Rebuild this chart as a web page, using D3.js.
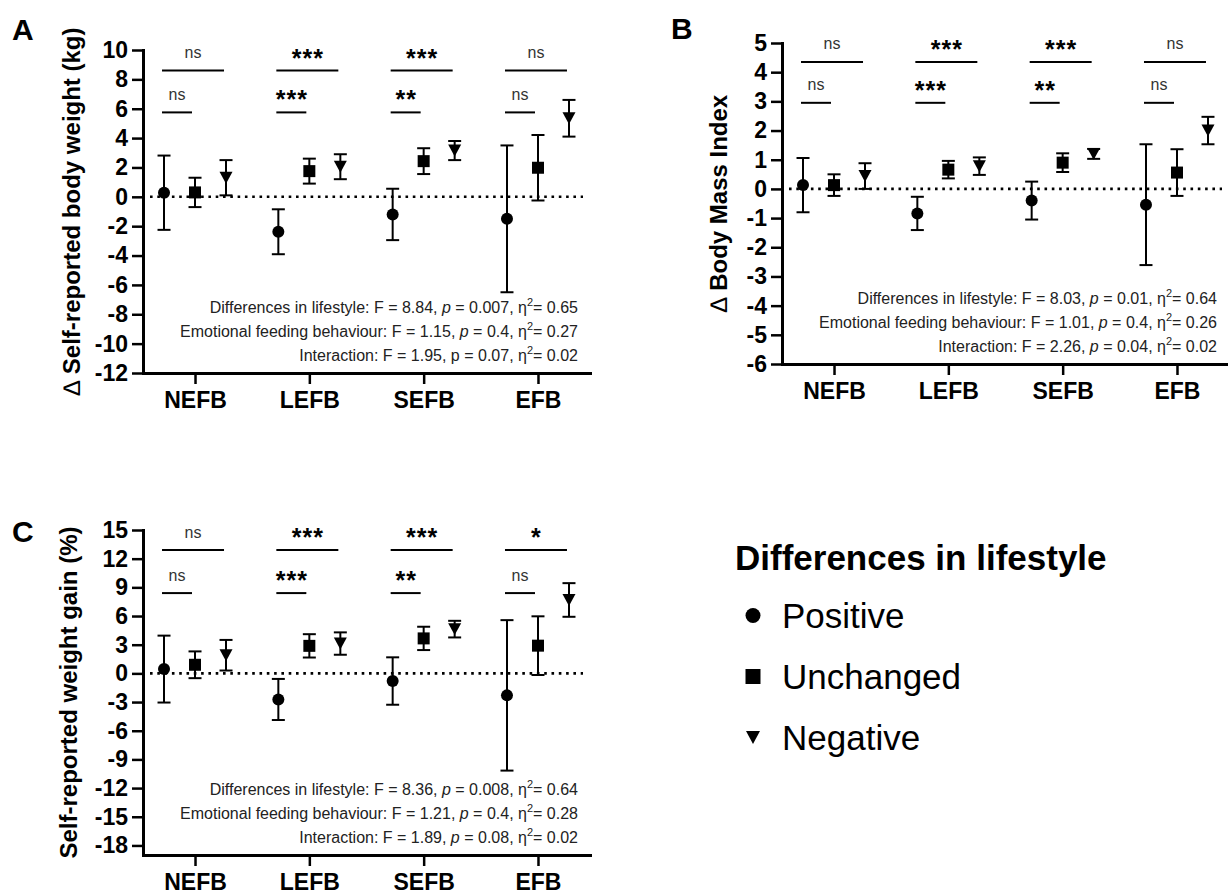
<!DOCTYPE html>
<html lang="en">
<head>
<meta charset="UTF-8">
<title>Lifestyle and emotional feeding behaviour</title>
<script src="https://d3js.org/d3.v7.min.js"></script>
<style>
  body { margin: 0; background: white; }
  svg { font-family: "Liberation Sans", Arial, sans-serif; background: white; }
</style>
</head>
<body>
<svg width="1228" height="894"></svg>
<script>
// Categories
var groups = ["NEFB", "LEFB", "SEFB", "EFB"];
var lifestyles = ["Positive", "Unchanged", "Negative"];

// A: change in self-reported body weight (kg); rows = Positive, Unchanged, Negative
var weightMean = [
    [0.28, -2.38, -1.2, -1.5],
    [0.3, 1.75, 2.43, 1.98],
    [1.3, 2.05, 3.15, 5.35]
];
var weightErr = [
    [2.53, 1.53, 1.75, 5.0],
    [1.0, 0.85, 0.88, 2.23],
    [1.2, 0.85, 0.65, 1.25]
];
var weightTicks = [-12, -10, -8, -6, -4, -2, 0, 2, 4, 6, 8, 10];
var weightSigAll = ["ns", "***", "***", "ns"];
var weightSigPair = ["ns", "***", "**", "ns"];
var weightStats = [
    ["Differences in lifestyle", "8.84", "0.007", "0.65"],
    ["Emotional feeding behaviour", "1.15", "0.4", "0.27"],
    ["Interaction", "1.95", "0.07", "0.02"]
];

// B: change in body mass index
var bmiMean = [
    [0.13, -0.84, -0.4, -0.54],
    [0.13, 0.66, 0.9, 0.56],
    [0.44, 0.78, 1.2, 2.0]
];
var bmiErr = [
    [0.93, 0.57, 0.65, 2.07],
    [0.37, 0.3, 0.32, 0.8],
    [0.44, 0.3, 0.17, 0.47]
];
var bmiTicks = [-6, -5, -4, -3, -2, -1, 0, 1, 2, 3, 4, 5];
var bmiSigAll = ["ns", "***", "***", "ns"];
var bmiSigPair = ["ns", "***", "**", "ns"];
var bmiStats = [
    ["Differences in lifestyle", "8.03", "0.01", "0.64"],
    ["Emotional feeding behaviour", "1.01", "0.4", "0.26"],
    ["Interaction", "2.26", "0.04", "0.02"]
];

// C: self-reported weight gain (%)
var gainMean = [
    [0.45, -2.73, -0.8, -2.3],
    [0.9, 2.88, 3.66, 2.9],
    [1.9, 3.12, 4.63, 7.68]
];
var gainErr = [
    [3.5, 2.15, 2.48, 7.87],
    [1.4, 1.22, 1.22, 3.07],
    [1.6, 1.17, 0.87, 1.76]
];
var gainTicks = [-18, -15, -12, -9, -6, -3, 0, 3, 6, 9, 12, 15];
var gainSigAll = ["ns", "***", "***", "*"];
var gainSigPair = ["ns", "***", "**", "ns"];
var gainStats = [
    ["Differences in lifestyle", "8.36", "0.008", "0.64"],
    ["Emotional feeding behaviour", "1.21", "0.4", "0.28"],
    ["Interaction", "1.89", "0.08", "0.02"]
];

var svg = d3.select("svg");

// Downward triangle centred on its bounding box
var triangleDown = {
    draw: function (ctx, size) {
        var h = Math.sqrt(size) / 2;
        ctx.moveTo(-h, -h * 0.92);
        ctx.lineTo(h, -h * 0.92);
        ctx.lineTo(0, h * 0.92);
        ctx.closePath();
    }
};
var shapes = [d3.symbolCircle, d3.symbolSquare, triangleDown];
function symbolPath(i, d) {
    var area = i == 0 ? Math.PI * d * d / 4 : d * d;
    return d3.symbol().type(shapes[i]).size(area)();
}

var panels = [
    { letter: "A", letterPos: [12, 40], mean: weightMean, err: weightErr, ticks: weightTicks,
      yDomain: [-12, 10], xRange: [143, 590], yRange: [373, 50], label: "Self-reported body weight (kg)",
      delta: true, labelX: 80, sigAll: weightSigAll, sigPair: weightSigPair, sigLevels: [8.6, 5.75],
      stats: weightStats, uprightP: 2 },
    { letter: "B", letterPos: [671, 39], mean: bmiMean, err: bmiErr, ticks: bmiTicks,
      yDomain: [-6, 5], xRange: [782, 1229], yRange: [364, 43], label: "Body Mass Index",
      delta: true, labelX: 727, sigAll: bmiSigAll, sigPair: bmiSigPair, sigLevels: [4.35, 2.95],
      stats: bmiStats, uprightP: -1 },
    { letter: "C", letterPos: [12, 542], mean: gainMean, err: gainErr, ticks: gainTicks,
      yDomain: [-19, 15], xRange: [143, 590], yRange: [855, 530], label: "Self-reported weight gain (%)",
      delta: false, labelX: 77, sigAll: gainSigAll, sigPair: gainSigPair, sigLevels: [12.9, 8.4],
      stats: gainStats, uprightP: -1 }
];

panels.forEach(drawPanel);

function drawPanel(cfg) {
    var g = svg.append("g");
    var x = d3.scalePoint().domain(groups).range(cfg.xRange).padding(0.455);
    var dx = d3.scalePoint().domain(lifestyles).range([-31, 31]);
    var y = d3.scaleLinear().domain(cfg.yDomain).range(cfg.yRange);

    // Dotted zero line
    g.append("line")
        .attr("x1", cfg.xRange[0] + 7).attr("x2", cfg.xRange[1] - 7)
        .attr("y1", y(0)).attr("y2", y(0))
        .attr("stroke", "black").attr("stroke-width", 2.6)
        .attr("stroke-dasharray", "2.6 4.7");

    // Flatten the values into points
    var pts = [];
    lifestyles.forEach(function (l, i) {
        groups.forEach(function (gr, j) {
            pts.push({ group: gr, life: l, k: i, mean: cfg.mean[i][j], err: cfg.err[i][j] });
        });
    });
    function px(d) { return x(d.group) + dx(d.life); }

    // Error bars
    var bars = g.append("g").attr("stroke", "black").attr("stroke-width", 2);
    bars.selectAll(".stem").data(pts).enter().append("line")
        .attr("x1", px).attr("x2", px)
        .attr("y1", function (d) { return y(d.mean + d.err); })
        .attr("y2", function (d) { return y(d.mean - d.err); });
    bars.selectAll(".capTop").data(pts).enter().append("line")
        .attr("x1", function (d) { return px(d) - 6.5; })
        .attr("x2", function (d) { return px(d) + 6.5; })
        .attr("y1", function (d) { return y(d.mean + d.err); })
        .attr("y2", function (d) { return y(d.mean + d.err); });
    bars.selectAll(".capBottom").data(pts).enter().append("line")
        .attr("x1", function (d) { return px(d) - 6.5; })
        .attr("x2", function (d) { return px(d) + 6.5; })
        .attr("y1", function (d) { return y(d.mean - d.err); })
        .attr("y2", function (d) { return y(d.mean - d.err); });

    // Markers
    g.selectAll(".marker").data(pts).enter().append("path")
        .attr("transform", function (d) { return "translate(" + px(d) + "," + y(d.mean) + ")"; })
        .attr("d", function (d) { return symbolPath(d.k, d.k == 2 ? 13 : 12); })
        .attr("fill", "black");

    // Axes (plain hyphen for negatives, as in the original)
    var yAxis = g.append("g")
        .attr("transform", "translate(" + cfg.xRange[0] + ",0)")
        .call(d3.axisLeft(y).tickValues(cfg.ticks).tickFormat(function (d) { return String(d); })
            .tickSize(11).tickSizeOuter(0).tickPadding(4));
    var xAxis = g.append("g")
        .attr("transform", "translate(0," + cfg.yRange[0] + ")")
        .call(d3.axisBottom(x).tickSize(11).tickSizeOuter(0).tickPadding(8));
    [yAxis, xAxis].forEach(function (a) {
        a.attr("font-family", null).attr("font-size", null);
        a.select(".domain").attr("stroke-width", 3).attr("stroke-linecap", "square");
        a.selectAll(".tick line").attr("stroke-width", 2.5);
        a.selectAll(".tick text").attr("fill", "black")
            .style("font-size", "23px").style("font-weight", "bold");
    });

    // Axis title
    var title = g.append("text")
        .attr("transform", "translate(" + cfg.labelX + "," + (cfg.yRange[0] + cfg.yRange[1]) / 2 + ") rotate(-90)")
        .attr("text-anchor", "middle")
        .style("font-size", "24px").style("font-weight", "bold");
    if (cfg.delta) {
        title.append("tspan").style("font-weight", "normal").text("\u2206 ");
    }
    title.append("tspan").text(cfg.label);

    // Panel letter
    g.append("text")
        .attr("x", cfg.letterPos[0]).attr("y", cfg.letterPos[1])
        .style("font-size", "30px").style("font-weight", "bold")
        .text(cfg.letter);

    // Significance brackets
    var levels = [
        { labels: cfg.sigAll, v: cfg.sigLevels[0], end: "Negative", off: -2 },
        { labels: cfg.sigPair, v: cfg.sigLevels[1], end: "Unchanged", off: -3 }
    ];
    levels.forEach(function (lv) {
        groups.forEach(function (gr, j) {
            var x1 = x(gr) + dx("Positive") - 2;
            var x2 = x(gr) + dx(lv.end) + lv.off;
            var yy = y(lv.v);
            g.append("line")
                .attr("x1", x1).attr("x2", x2).attr("y1", yy).attr("y2", yy)
                .attr("stroke", "black").attr("stroke-width", 2);
            var lab = lv.labels[j];
            var t = g.append("text")
                .attr("x", (x1 + x2) / 2)
                .attr("text-anchor", "middle")
                .text(lab);
            if (lab == "ns") {
                t.attr("y", yy - 12.5).attr("fill", "#333").style("font-size", "16px");
            } else {
                t.attr("x", (x1 + x2) / 2 + 0.5).attr("y", yy - 4)
                    .style("font-size", "25px").style("font-weight", "bold")
                    .style("letter-spacing", "1px");
            }
        });
    });

    // ANOVA summary
    cfg.stats.forEach(function (s, i) {
        var t = g.append("text")
            .attr("x", cfg.xRange[1] - 12)
            .attr("y", cfg.yRange[0] - 12 - 24 * (2 - i))
            .attr("text-anchor", "end")
            .attr("fill", "#222")
            .style("font-size", "16px");
        t.append("tspan").text(s[0] + ": F = " + s[1] + ", ");
        t.append("tspan").style("font-style", i == cfg.uprightP ? "normal" : "italic").text("p");
        t.append("tspan").text(" = " + s[2] + ", \u03b7");
        t.append("tspan").attr("dy", -7).style("font-size", "11px").text("2");
        t.append("tspan").attr("dy", 7).text("= " + s[3]);
    });
}

// Legend
var legend = svg.append("g").attr("transform", "translate(735,0)");
legend.append("text")
    .attr("x", 0).attr("y", 570)
    .style("font-size", "35px").style("font-weight", "bold")
    .text("Differences in lifestyle");
lifestyles.forEach(function (l, i) {
    var base = 628 + 61 * i;
    legend.append("path")
        .attr("transform", "translate(18," + (base - 12.5) + ")")
        .attr("d", symbolPath(i, i == 2 ? 14 : 15))
        .attr("fill", "black");
    legend.append("text")
        .attr("x", 47).attr("y", base)
        .style("font-size", "35px")
        .text(l);
});
</script>
</body>
</html>
